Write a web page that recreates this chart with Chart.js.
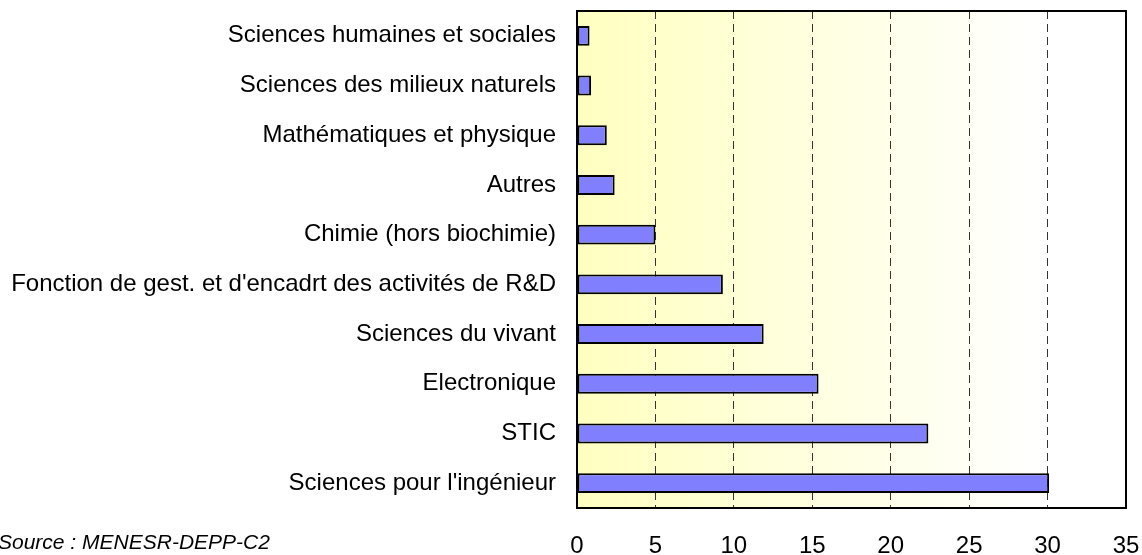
<!DOCTYPE html>
<html>
<head>
<meta charset="utf-8">
<script src="https://cdn.jsdelivr.net/npm/chart.js@4.4.1/dist/chart.umd.min.js"></script>
<style>
  html, body { margin: 0; padding: 0; background: #fff; }
  #wrap { position: relative; width: 1142px; height: 555px; overflow: hidden; }
  #source {
    position: absolute; left: -2px; top: 531px;
    font: italic 21px "Liberation Sans", Arial, sans-serif; line-height: 21px;
    color: #000; white-space: nowrap;
  }
</style>
</head>
<body>
<div id="wrap">
  <canvas id="chart"></canvas>
  <div id="source">Source : MENESR-DEPP-C2</div>
</div>
<script>
const categories = [
  'Sciences humaines et sociales',
  'Sciences des milieux naturels',
  'Mathématiques et physique',
  'Autres',
  'Chimie (hors biochimie)',
  "Fonction de gest. et d'encadrt des activités de R&D",
  'Sciences du vivant',
  'Electronique',
  'STIC',
  "Sciences pour l'ingénieur"
];
const values = [0.8, 0.9, 1.9, 2.4, 5.0, 9.3, 11.9, 15.4, 22.4, 30.1];
const xTicks = [0, 5, 10, 15, 20, 25, 30, 35];

const FONT = { family: '"Liberation Sans", Arial, sans-serif', size: 24 };

// yellow-to-white gradient behind the plot, black frame on top
const plotAreaPlugin = {
  id: 'plotArea',
  beforeDraw: chart => {
    const { ctx, chartArea: a } = chart;
    const g = ctx.createLinearGradient(a.left, 0, a.right, 0);
    g.addColorStop(0, '#ffffc0');
    g.addColorStop(0.85, '#ffffff');
    g.addColorStop(1, '#ffffff');
    ctx.save();
    ctx.fillStyle = g;
    ctx.fillRect(a.left, a.top, a.right - a.left, a.bottom - a.top);
    ctx.restore();
  },
  afterDraw: chart => {
    const { ctx, chartArea: a } = chart;
    ctx.save();
    ctx.strokeStyle = '#000';
    ctx.lineWidth = 2;
    ctx.strokeRect(a.left, a.top, a.right - a.left, a.bottom - a.top);
    ctx.restore();
  }
};

new Chart(document.getElementById('chart').getContext('2d'), {
  type: 'bar',
  data: {
    labels: categories,
    datasets: [{
      data: values,
      backgroundColor: '#8080ff',
      borderColor: '#000',
      borderWidth: 2,
      borderSkipped: false,
      barPercentage: 0.5,
      categoryPercentage: 0.8
    }]
  },
  options: {
    indexAxis: 'y',
    responsive: true,
    maintainAspectRatio: false,
    animation: false,
    layout: { padding: { top: 11, right: 16, bottom: 0, left: 0 } },
    scales: {
      x: {
        min: 0,
        max: 35,
        afterBuildTicks: scale => { scale.ticks = xTicks.map(v => ({ value: v })); },
        afterFit: scale => {
          scale.height = 47;
          scale.paddingLeft = 0;
          scale.paddingRight = 0;
        },
        grid: {
          drawTicks: false,
          color: c => (c.tick && (c.tick.value === 0 || c.tick.value === 35)) ? 'rgba(0,0,0,0)' : '#333',
          lineWidth: 1
        },
        border: { display: false, dash: [8, 5] },
        ticks: { color: '#000', font: FONT, padding: 24, maxRotation: 0 }
      },
      y: {
        afterFit: scale => {
          scale.width = 577;
          scale.paddingTop = 0;
          scale.paddingBottom = 0;
        },
        grid: { display: false, drawTicks: false },
        border: { display: false },
        ticks: { color: '#000', font: FONT, padding: 21 }
      }
    },
    plugins: {
      legend: { display: false },
      title: { display: false },
      tooltip: { enabled: false }
    }
  },
  plugins: [plotAreaPlugin]
});
</script>
</body>
</html>
